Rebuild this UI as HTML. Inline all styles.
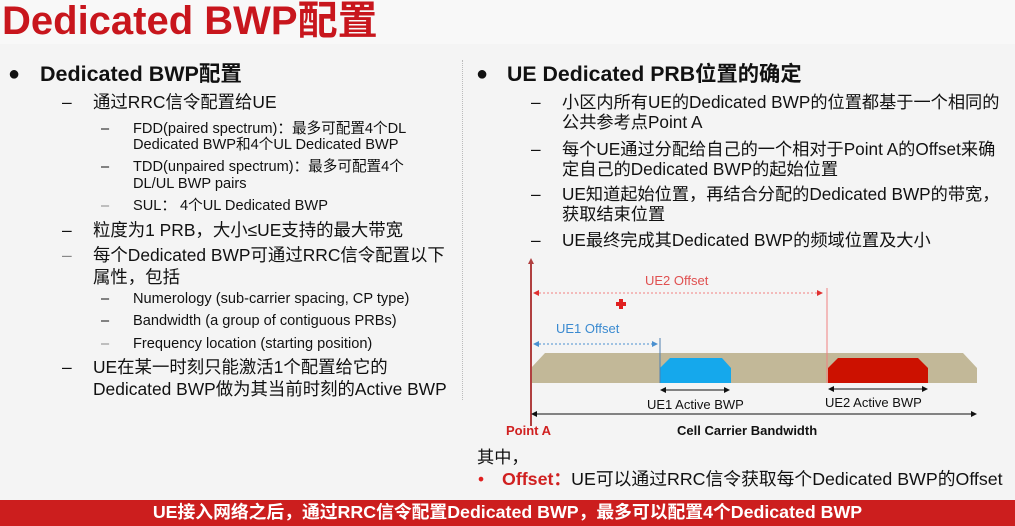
<!DOCTYPE html><html><head><meta charset="utf-8"><style>
body{margin:0;width:1015px;height:526px;overflow:hidden;position:relative;background:#f4f4f4;font-family:"Liberation Sans","Noto Sans CJK SC",sans-serif;color:#111}
.t{position:absolute;white-space:nowrap;line-height:1}
.s16{font-size:17.4px}.s13{font-size:14.6px}.r{font-size:17.2px}
</style></head><body>
<div style="position:absolute;left:0;top:0;width:1015px;height:44px;background:#f8f8f8"></div>
<div class="t" style="left:2px;top:1px;font-size:40px;font-weight:bold;color:#c8161d">Dedicated BWP配置</div>
<div style="position:absolute;left:462px;top:60px;height:340px;border-left:1px dotted #bbb"></div>
<div class="t" style="left:8px;top:64px;font-size:20px">●</div>
<div class="t" style="left:40px;top:64px;font-size:21.5px;font-weight:bold">Dedicated BWP配置</div>
<div class="t s16" style="left:62px;top:94px">–</div><div class="t s16" style="left:93px;top:94px">通过RRC信令配置给UE</div>
<div class="t s13" style="left:101px;top:122px">–</div><div class="t s13" style="left:133px;top:122px">FDD(paired spectrum)：最多可配置4个DL</div>
<div class="t s13" style="left:133px;top:138px">Dedicated BWP和4个UL Dedicated BWP</div>
<div class="t s13" style="left:101px;top:160px">–</div><div class="t s13" style="left:133px;top:160px">TDD(unpaired spectrum)：最多可配置4个</div>
<div class="t s13" style="left:133px;top:177px">DL/UL BWP pairs</div>
<div class="t s13" style="left:101px;top:199px;color:#888">–</div><div class="t s13" style="left:133px;top:199px">SUL： 4个UL Dedicated BWP</div>
<div class="t s16" style="left:62px;top:222px">–</div><div class="t s16" style="left:93px;top:222px">粒度为1 PRB，大小≤UE支持的最大带宽</div>
<div class="t s16" style="left:62px;top:247px;color:#888">–</div><div class="t s16" style="left:93px;top:247px">每个Dedicated BWP可通过RRC信令配置以下</div>
<div class="t s16" style="left:93px;top:269px">属性，包括</div>
<div class="t s13" style="left:101px;top:292px">–</div><div class="t s13" style="left:133px;top:292px">Numerology (sub-carrier spacing, CP type)</div>
<div class="t s13" style="left:101px;top:314px">–</div><div class="t s13" style="left:133px;top:314px">Bandwidth (a group of contiguous PRBs)</div>
<div class="t s13" style="left:101px;top:337px;color:#888">–</div><div class="t s13" style="left:133px;top:337px">Frequency location (starting position)</div>
<div class="t s16" style="left:62px;top:359px">–</div><div class="t s16" style="left:93px;top:359px">UE在某一时刻只能激活1个配置给它的</div>
<div class="t s16" style="left:93px;top:381px">Dedicated BWP做为其当前时刻的Active BWP</div>

<div class="t" style="left:476px;top:64px;font-size:20px">●</div>
<div class="t" style="left:507px;top:64px;font-size:21.3px;font-weight:bold">UE Dedicated PRB位置的确定</div>
<div class="t r" style="left:531px;top:94px">–</div><div class="t r" style="left:562px;top:94px">小区内所有UE的Dedicated BWP的位置都基于一个相同的</div>
<div class="t r" style="left:562px;top:114px">公共参考点Point A</div>
<div class="t r" style="left:531px;top:141px">–</div><div class="t r" style="left:562px;top:141px">每个UE通过分配给自己的一个相对于Point A的Offset来确</div>
<div class="t r" style="left:562px;top:161px">定自己的Dedicated BWP的起始位置</div>
<div class="t r" style="left:531px;top:186px">–</div><div class="t r" style="left:562px;top:186px">UE知道起始位置，再结合分配的Dedicated BWP的带宽，</div>
<div class="t r" style="left:562px;top:206px">获取结束位置</div>
<div class="t r" style="left:531px;top:232px">–</div><div class="t r" style="left:562px;top:232px">UE最终完成其Dedicated BWP的频域位置及大小</div>

<svg style="position:absolute;left:0;top:0" width="1015" height="526">
<polygon points="531,368 545,353 963,353 977,368 977,383 531,383" fill="#c2b898"/>
<polygon points="660,383 660,368 670,358 722,358 731,368 731,383" fill="#15a8ec"/>
<polygon points="828,383 828,368 838,358 918,358 928,368 928,383" fill="#cc1100"/>
<line x1="531" y1="260" x2="531" y2="426" stroke="#b04040" stroke-width="2"/>
<polygon points="528,264 531,258 534,264" fill="#b04040"/>
<line x1="535" y1="293" x2="818" y2="293" stroke="#f28080" stroke-dasharray="2,2"/>
<polygon points="533,293 539,290 539,296" fill="#e03030"/><polygon points="823,293 817,290 817,296" fill="#e03030"/>
<line x1="827" y1="288" x2="827" y2="383" stroke="#f08080"/>
<line x1="535" y1="344" x2="654" y2="344" stroke="#4a90d0" stroke-dasharray="2,2"/>
<polygon points="533,344 539,341 539,347" fill="#4a90d0"/><polygon points="658,344 652,341 652,347" fill="#4a90d0"/>
<line x1="660" y1="338" x2="660" y2="383" stroke="#5080b0"/>
<rect x="616" y="302" width="10" height="4" fill="#e02020"/><rect x="619" y="299" width="4" height="10" fill="#e02020"/>
<g stroke="#111" stroke-width="1"><line x1="662" y1="390" x2="728" y2="390"/><line x1="830" y1="389" x2="926" y2="389"/><line x1="533" y1="414" x2="975" y2="414"/></g>
<g fill="#111"><polygon points="660,390 666,387 666,393"/><polygon points="730,390 724,387 724,393"/><polygon points="828,389 834,386 834,392"/><polygon points="928,389 922,386 922,392"/><polygon points="531,414 537,411 537,417"/><polygon points="977,414 971,411 971,417"/></g>
<g font-family="Liberation Sans,sans-serif" font-size="13">
<text x="645" y="285" fill="#e05050">UE2 Offset</text>
<text x="556" y="333" fill="#3a8ad0">UE1 Offset</text>
<text x="647" y="409" fill="#111">UE1 Active BWP</text>
<text x="825" y="407" fill="#111">UE2 Active BWP</text>
<text x="677" y="435" fill="#111" font-weight="bold">Cell Carrier Bandwidth</text>
<text x="506" y="435" fill="#d02020" font-weight="bold" font-size="13">Point A</text>
</g></svg>
<div class="t r" style="left:477px;top:449px">其中，</div>
<div class="t r" style="left:478px;top:471px;color:#e02020">•</div>
<div class="t" style="left:502px;top:471px;font-size:17.8px"><b style="color:#d02020">Offset：</b>UE可以通过RRC信令获取每个Dedicated BWP的Offset</div>
<div style="position:absolute;left:0;top:500px;width:1015px;height:26px;background:#cc1e1e"></div>
<div class="t" style="left:0;width:1015px;top:504px;text-align:center;color:#fff;font-weight:bold;font-size:17.8px">UE接入网络之后，通过RRC信令配置Dedicated BWP，最多可以配置4个Dedicated BWP</div>
</body></html>
